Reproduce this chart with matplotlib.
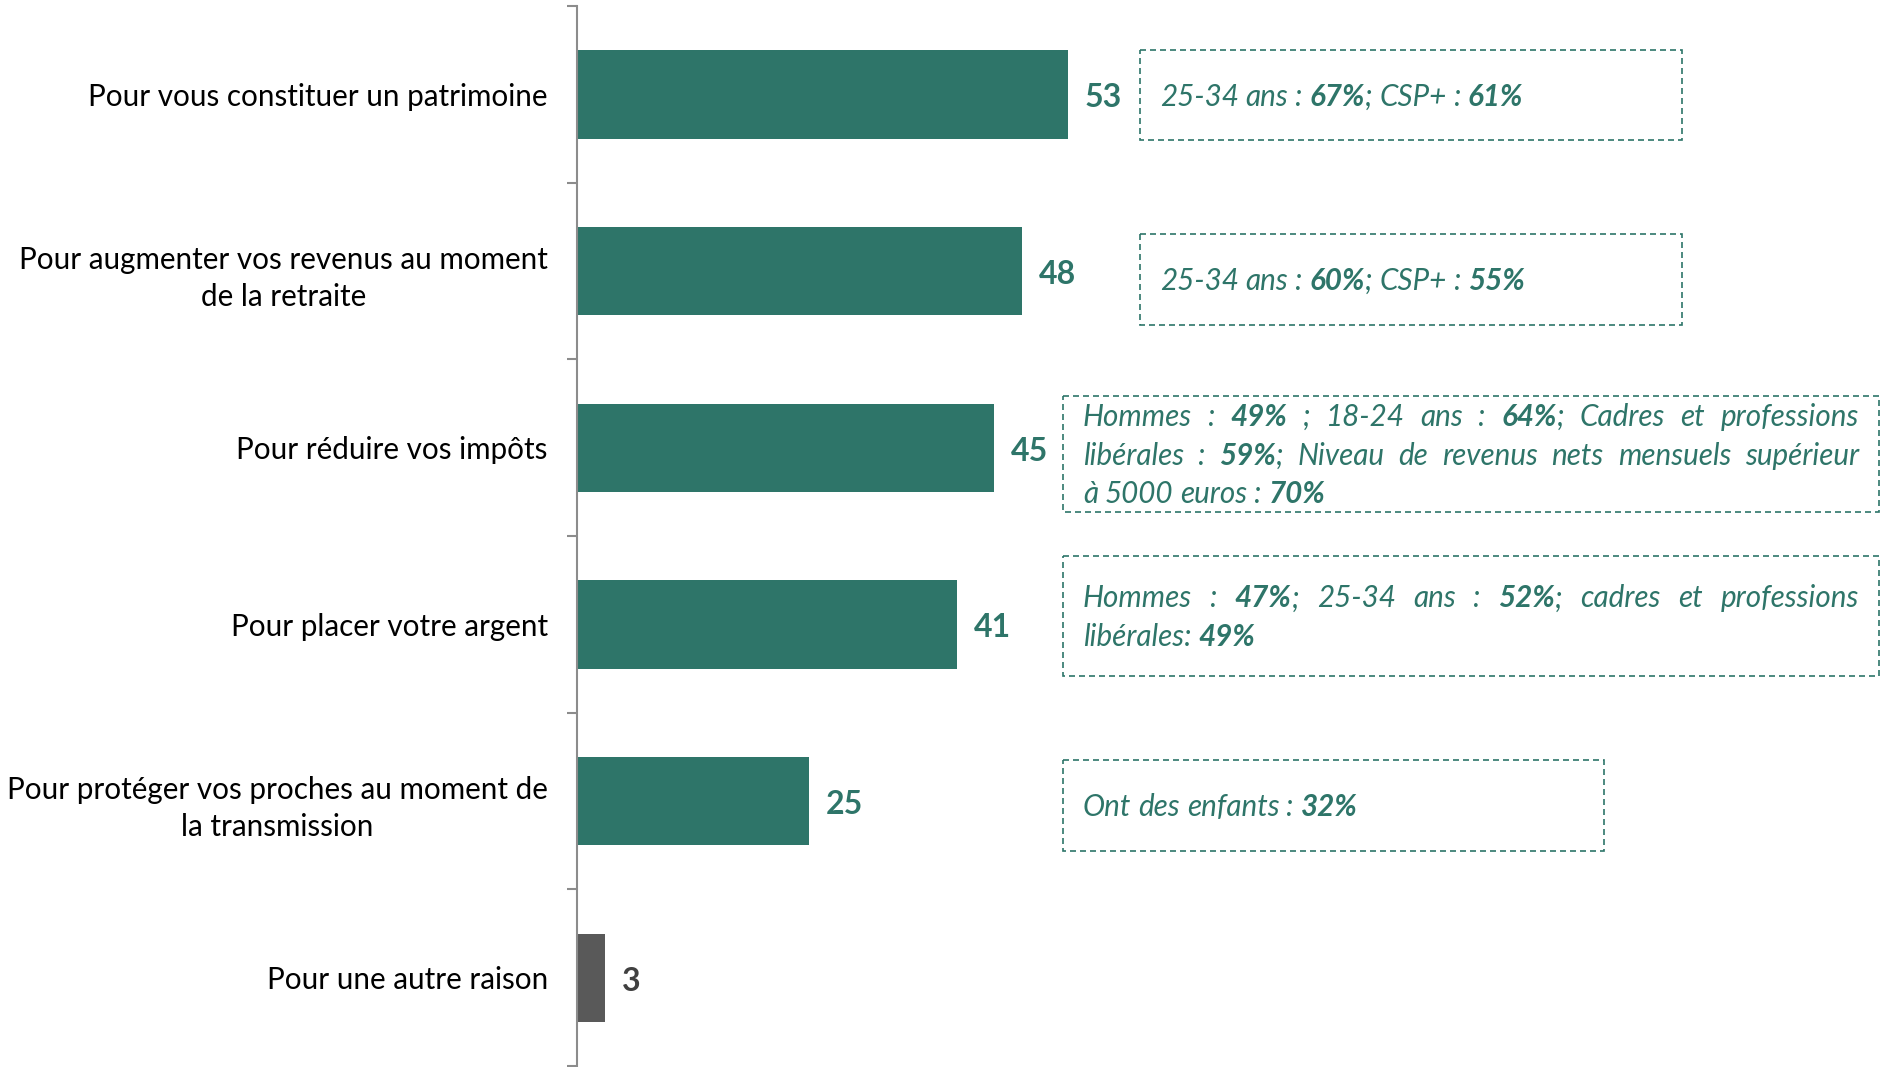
import matplotlib
matplotlib.use("Agg")
import matplotlib.pyplot as plt
from matplotlib.patches import Rectangle

# data
categories = [
    "Pour vous constituer un patrimoine",
    "Pour augmenter vos revenus au moment\nde la retraite",
    "Pour réduire vos impôts",
    "Pour placer votre argent",
    "Pour protéger vos proches au moment de\nla transmission",
    "Pour une autre raison",
]
values = [53, 48, 45, 41, 25, 3]
notes = [
    ["25-34 ans : **67%**; CSP+ : **61%**"],
    ["25-34 ans : **60%**; CSP+ : **55%**"],
    ["Hommes : **49%** ; 18-24 ans : **64%**; Cadres et professions",
     "libérales : **59%**; Niveau de revenus nets mensuels supérieur",
     "à 5000 euros : **70%**"],
    ["Hommes : **47%**; 25-34 ans : **52%**; cadres et professions",
     "libérales: **49%**"],
    ["Ont des enfants : **32%**"],
    None,
]

TEAL = "#2e7569"
GREY_BAR = "#595959"
GREY_TXT = "#404040"
FONT = "Lato"

W, H = 1883, 1067
fig = plt.figure(figsize=(W / 100, H / 100), dpi=100)

# main bar axes: x=0 sits at pixel 577, 9.27 px per unit
x0_px = 577
px_per_unit = 9.27
ax = fig.add_axes([x0_px / W, 1 / H, 1 - x0_px / W, 1 - 7 / H])
ax.set_xlim(0, (W - x0_px) / px_per_unit)
ax.set_ylim(len(categories) - 0.5, -0.5)

colors = [GREY_BAR if c == "Pour une autre raison" else TEAL for c in categories]
ax.barh(range(len(categories)), values, height=0.5, color=colors)

for i, v in enumerate(values):
    ax.text(v + 1.8, i + 0.02, str(v), va="center", ha="left", fontsize=23,
            fontweight="bold", family=FONT,
            color=GREY_TXT if colors[i] == GREY_BAR else TEAL)

for s in ["top", "right", "bottom"]:
    ax.spines[s].set_visible(False)
ax.spines["left"].set_color("#8c8c8c")
ax.spines["left"].set_linewidth(1.5)
ax.set_xticks([])
ax.set_yticks(range(len(categories)))
ax.set_yticklabels(categories, fontsize=21.3, family=FONT, linespacing=1.42)
ax.set_yticks([i - 0.5 for i in range(len(categories) + 1)], minor=True)
ax.tick_params(axis="y", which="major", length=0, pad=21)
ax.tick_params(axis="y", which="minor", length=7.5, width=1.5, color="#8c8c8c",
               direction="out")
for lab in ax.get_yticklabels():
    lab.set_multialignment("center")

# overlay in pixel coordinates for the note boxes
ov = fig.add_axes([0, 0, 1, 1], facecolor="none")
ov.set_xlim(0, W)
ov.set_ylim(H, 0)
ov.axis("off")

boxes = [
    (1140, 1682, 50, 140),
    (1140, 1682, 234, 325),
    (1063, 1879, 396, 512),
    (1063, 1879, 556, 676),
    (1063, 1604, 760, 851),
]
pad = 20
fs_note = 21.3
line_h = 38.4
renderer = fig.canvas.get_renderer()


def parse(line):
    # -> list of words, each word a list of (text, bold)
    words, cur = [], []
    bold = False
    for k, part in enumerate(line.split("**")):
        if k > 0:
            bold = not bold
        pieces = part.split(" ")
        for j, p in enumerate(pieces):
            if j > 0:
                if cur:
                    words.append(cur)
                cur = []
            if p:
                cur.append((p, bold))
    if cur:
        words.append(cur)
    return words


def width(txt, bold):
    t = ov.text(0, 0, txt, fontsize=fs_note, family=FONT, style="italic",
                fontweight="bold" if bold else "normal")
    w = t.get_window_extent(renderer).width
    t.remove()
    return w


space_w = width("x x", False) - width("xx", False)

for (bx0, bx1, by0, by1), note in zip(boxes, [n for n in notes if n]):
    ov.add_patch(Rectangle((bx0, by0), bx1 - bx0, by1 - by0, fill=False,
                           edgecolor=TEAL, lw=1.2, linestyle=(0, (3.6, 2.4))))
    yc = (by0 + by1) / 2
    n = len(note)
    for li, line in enumerate(note):
        base = yc + (li - (n - 1) / 2) * line_h + 0.36 * fs_note * 100 / 72
        words = parse(line)
        wws = [sum(width(s, b) for s, b in w) for w in words]
        avail = bx1 - bx0 - 2 * pad
        if n > 1 and li < n - 1 and len(words) > 1:
            gap = (avail - sum(wws)) / (len(words) - 1)
        else:
            gap = space_w
        x = bx0 + pad
        for w, ww in zip(words, wws):
            xs = x
            for s, b in w:
                ov.text(xs, base, s, fontsize=fs_note, family=FONT,
                        style="italic", fontweight="bold" if b else "normal",
                        color=TEAL, va="baseline", ha="left")
                xs += width(s, b)
            x += ww + gap

fig.savefig("out.png", dpi=100)
